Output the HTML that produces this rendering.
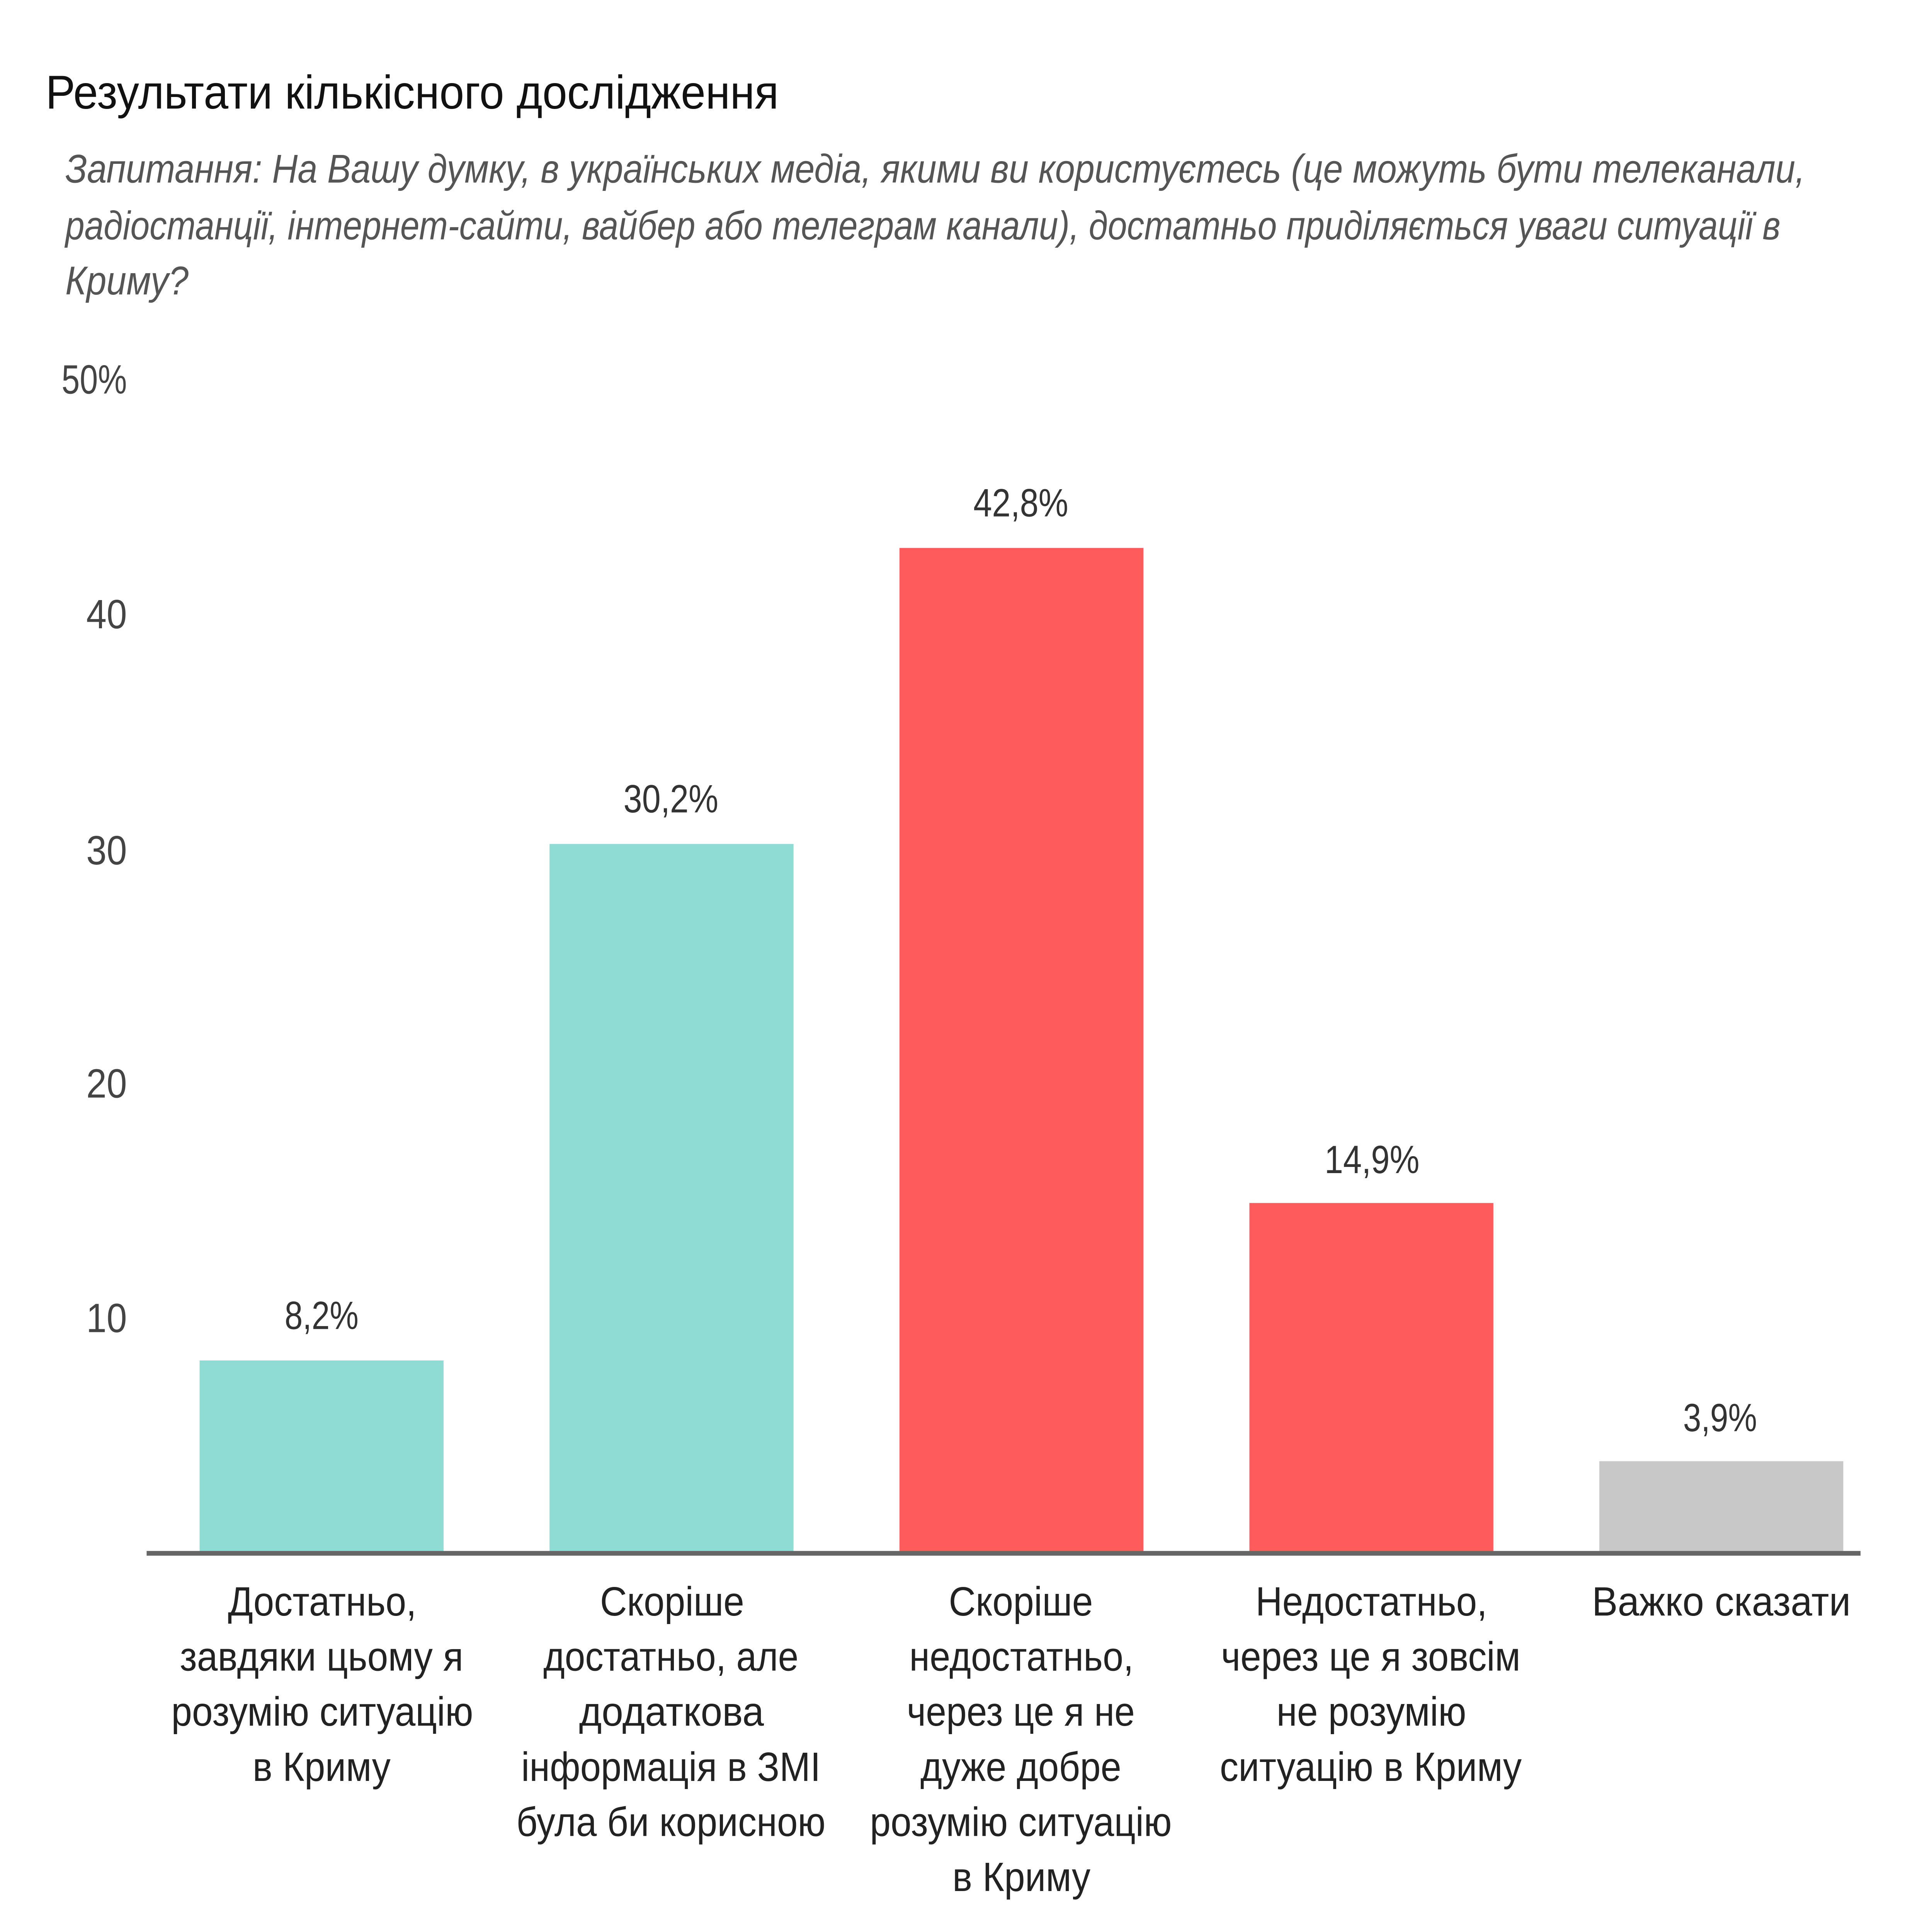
<!DOCTYPE html>
<html><head><meta charset="utf-8">
<style>
html,body{margin:0;padding:0;background:#fff;width:100%;height:100%;overflow:hidden;}
svg{display:block;width:100vw;height:100vh;}
text{font-family:"Liberation Sans","DejaVu Sans",sans-serif;}
</style></head><body>
<svg viewBox="0 0 1568 1227" preserveAspectRatio="none" xmlns="http://www.w3.org/2000/svg">
<rect x="0" y="0" width="1568" height="1227" fill="#fff"/>
<text x="37" y="69" font-size="30" fill="#111" textLength="595" lengthAdjust="spacingAndGlyphs">Результати кількісного дослідження</text>
<g font-size="25.5" font-style="italic" fill="#555">
<text x="53" y="116" textLength="1412" lengthAdjust="spacingAndGlyphs">Запитання: На Вашу думку, в українських медіа, якими ви користуєтесь (це можуть бути телеканали,</text>
<text x="53" y="152" textLength="1392" lengthAdjust="spacingAndGlyphs">радіостанції, інтернет-сайти, вайбер або телеграм канали), достатньо приділяється уваги ситуації в</text>
<text x="53" y="187" textLength="100" lengthAdjust="spacingAndGlyphs">Криму?</text>
</g>
<g font-size="26" fill="#444">
<text x="50" y="250" textLength="53" lengthAdjust="spacingAndGlyphs">50%</text>
<text x="70" y="399" textLength="33" lengthAdjust="spacingAndGlyphs">40</text>
<text x="70" y="549" textLength="33" lengthAdjust="spacingAndGlyphs">30</text>
<text x="70" y="697" textLength="33" lengthAdjust="spacingAndGlyphs">20</text>
<text x="70" y="846" textLength="33" lengthAdjust="spacingAndGlyphs">10</text>
</g>
<rect x="162" y="864" width="198" height="122" fill="#8fdcd4"/>
<rect x="446" y="536" width="198" height="450" fill="#8fdcd4"/>
<rect x="730" y="348" width="198" height="638" fill="#fe5c5c"/>
<rect x="1014" y="764" width="198" height="222" fill="#fe5c5c"/>
<rect x="1298" y="928" width="198" height="58" fill="#c8c8c8"/>
<rect x="119" y="985" width="1391" height="3" fill="#666"/>
<g font-size="25" fill="#333">
<text x="231" y="844" textLength="60" lengthAdjust="spacingAndGlyphs">8,2%</text>
<text x="506" y="516" textLength="77" lengthAdjust="spacingAndGlyphs">30,2%</text>
<text x="790" y="328" textLength="77" lengthAdjust="spacingAndGlyphs">42,8%</text>
<text x="1075" y="745" textLength="77" lengthAdjust="spacingAndGlyphs">14,9%</text>
<text x="1366" y="909" textLength="60" lengthAdjust="spacingAndGlyphs">3,9%</text>
</g>
<g font-size="26" fill="#222">
<text x="185" y="1026" textLength="153" lengthAdjust="spacingAndGlyphs">Достатньо,</text>
<text x="146" y="1061" textLength="230" lengthAdjust="spacingAndGlyphs">завдяки цьому я</text>
<text x="139" y="1096" textLength="245" lengthAdjust="spacingAndGlyphs">розумію ситуацію</text>
<text x="205" y="1131" textLength="112" lengthAdjust="spacingAndGlyphs">в Криму</text>
<text x="487" y="1026" textLength="117" lengthAdjust="spacingAndGlyphs">Скоріше</text>
<text x="441" y="1061" textLength="207" lengthAdjust="spacingAndGlyphs">достатньо, але</text>
<text x="470" y="1096" textLength="150" lengthAdjust="spacingAndGlyphs">додаткова</text>
<text x="423" y="1131" textLength="243" lengthAdjust="spacingAndGlyphs">інформація в ЗМІ</text>
<text x="419" y="1166" textLength="251" lengthAdjust="spacingAndGlyphs">була би корисною</text>
<text x="770" y="1026" textLength="117" lengthAdjust="spacingAndGlyphs">Скоріше</text>
<text x="738" y="1061" textLength="182" lengthAdjust="spacingAndGlyphs">недостатньо,</text>
<text x="736" y="1096" textLength="185" lengthAdjust="spacingAndGlyphs">через це я не</text>
<text x="747" y="1131" textLength="163" lengthAdjust="spacingAndGlyphs">дуже добре</text>
<text x="706" y="1166" textLength="245" lengthAdjust="spacingAndGlyphs">розумію ситуацію</text>
<text x="773" y="1201" textLength="112" lengthAdjust="spacingAndGlyphs">в Криму</text>
<text x="1019" y="1026" textLength="188" lengthAdjust="spacingAndGlyphs">Недостатньо,</text>
<text x="991" y="1061" textLength="243" lengthAdjust="spacingAndGlyphs">через це я зовсім</text>
<text x="1036" y="1096" textLength="154" lengthAdjust="spacingAndGlyphs">не розумію</text>
<text x="990" y="1131" textLength="245" lengthAdjust="spacingAndGlyphs">ситуацію в Криму</text>
<text x="1292" y="1026" textLength="210" lengthAdjust="spacingAndGlyphs">Важко сказати</text>
</g>
</svg>
</body></html>
